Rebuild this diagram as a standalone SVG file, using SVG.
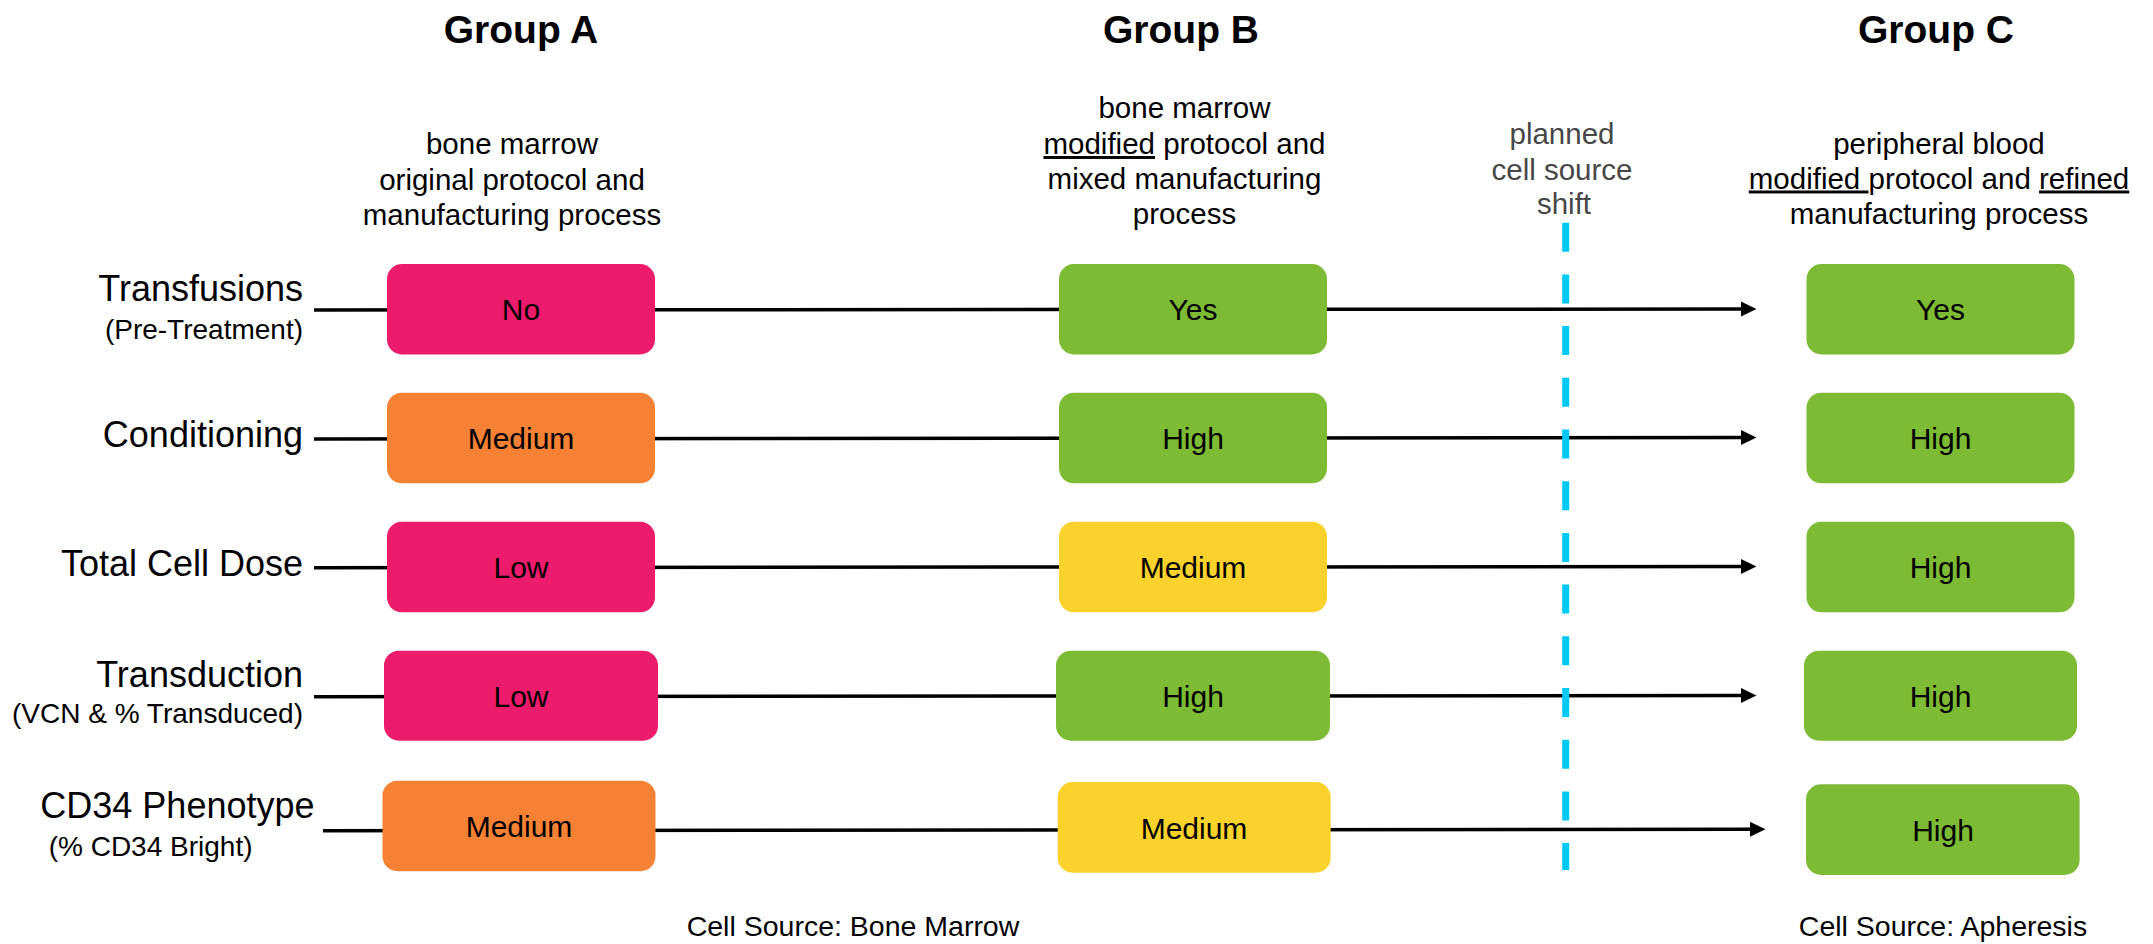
<svg xmlns="http://www.w3.org/2000/svg" width="2153" height="944" viewBox="0 0 2153 944">
<style>
text{font-family:"Liberation Sans",Arial,sans-serif;fill:#000}
.title{font-size:39px;font-weight:bold;text-anchor:middle}
.sub{font-size:29.5px;text-anchor:middle}
.note{font-size:29.5px;text-anchor:middle;fill:#474747}
.lbl{font-size:36px;text-anchor:end}
.lbl2{font-size:28px;text-anchor:end}
.val{font-size:30px;text-anchor:middle}
.src{font-size:28.5px;text-anchor:middle}
.conn{stroke:#000;stroke-width:3.5;fill:none}
.arrow{stroke:#000;stroke-width:3.5;fill:none;marker-end:url(#ah)}
.pink{fill:#EC1B6B}
.orange{fill:#F48134}
.green{fill:#7CBB33}
.yellow{fill:#FBD22B}
.shift{stroke:#00C8F8;stroke-width:7;stroke-dasharray:29 22.7;fill:none}
</style>
<defs>
<marker id="ah" markerUnits="userSpaceOnUse" markerWidth="16" markerHeight="16" viewBox="0 0 16 16" refX="3" refY="7.5" orient="auto">
<path d="M0,0 L15.5,7.5 L0,15 Z" fill="#000"/>
</marker>
</defs>
<rect width="2153" height="944" fill="#fff"/>

<g id="headers">
<text class="title" x="521" y="43">Group A</text>
<text class="title" x="1181" y="43">Group B</text>
<text class="title" x="1936" y="43">Group C</text>
<text class="sub" x="512" y="154">bone marrow</text>
<text class="sub" x="512" y="190">original protocol and</text>
<text class="sub" x="512" y="225">manufacturing process</text>
<text class="sub" x="1184.5" y="118">bone marrow</text>
<text class="sub" x="1184.5" y="154"><tspan text-decoration="underline">modified</tspan> protocol and</text>
<text class="sub" x="1184.5" y="188.5">mixed manufacturing</text>
<text class="sub" x="1184.5" y="224">process</text>
<text class="note" x="1562" y="144">planned</text>
<text class="note" x="1562" y="180">cell source</text>
<text class="note" x="1564" y="214">shift</text>
<text class="sub" x="1939" y="154">peripheral blood</text>
<text class="sub" x="1939" y="188.5"><tspan text-decoration="underline">modified </tspan>protocol and <tspan text-decoration="underline">refined</tspan></text>
<text class="sub" x="1939" y="224">manufacturing process</text>
</g>

<g id="row-labels">
<text class="lbl" x="303" y="300.5">Transfusions</text>
<text class="lbl2" x="303" y="338.5">(Pre-Treatment)</text>
<text class="lbl" x="303" y="446.7">Conditioning</text>
<text class="lbl" x="303" y="576">Total Cell Dose</text>
<text class="lbl" x="303" y="686.7">Transduction</text>
<text class="lbl2" x="303" y="723">(VCN &amp; % Transduced)</text>
<text class="lbl" x="314.5" y="818">CD34 Phenotype</text>
<text class="lbl2" x="252.5" y="856">(% CD34 Bright)</text>
</g>

<g id="connectors">
<line class="arrow" x1="314" y1="310" x2="1744" y2="309"/>
<line class="arrow" x1="314" y1="439" x2="1744" y2="437.5"/>
<line class="arrow" x1="314" y1="567.7" x2="1744" y2="566.5"/>
<line class="arrow" x1="314" y1="696.7" x2="1744" y2="695.5"/>
<line class="arrow" x1="323" y1="830.7" x2="1753" y2="829.3"/>
</g>

<g id="shift-line">
<line class="shift" x1="1565.7" y1="222.7" x2="1565.7" y2="870"/>
</g>

<g id="A1"><rect class="pink" x="387" y="264" width="268" height="90.5" rx="15"/><text class="val" x="521" y="320">No</text></g>
<g id="B1"><rect class="green" x="1059" y="264" width="268" height="90.5" rx="15"/><text class="val" x="1193" y="320">Yes</text></g>
<g id="C1"><rect class="green" x="1806.5" y="264" width="268" height="90.5" rx="15"/><text class="val" x="1940.5" y="320">Yes</text></g>

<g id="A2"><rect class="orange" x="387" y="392.7" width="268" height="90.6" rx="15"/><text class="val" x="521" y="449">Medium</text></g>
<g id="B2"><rect class="green" x="1059" y="392.7" width="268" height="90.6" rx="15"/><text class="val" x="1193" y="449">High</text></g>
<g id="C2"><rect class="green" x="1806.5" y="392.7" width="268" height="90.6" rx="15"/><text class="val" x="1940.5" y="449">High</text></g>

<g id="A3"><rect class="pink" x="387" y="521.7" width="268" height="90.6" rx="15"/><text class="val" x="521" y="578">Low</text></g>
<g id="B3"><rect class="yellow" x="1059" y="521.7" width="268" height="90.6" rx="15"/><text class="val" x="1193" y="578">Medium</text></g>
<g id="C3"><rect class="green" x="1806.5" y="521.7" width="268" height="90.6" rx="15"/><text class="val" x="1940.5" y="578">High</text></g>

<g id="A4"><rect class="pink" x="384" y="650.7" width="274" height="90" rx="15"/><text class="val" x="521" y="707">Low</text></g>
<g id="B4"><rect class="green" x="1056" y="650.7" width="274" height="90" rx="15"/><text class="val" x="1193" y="707">High</text></g>
<g id="C4"><rect class="green" x="1804" y="650.7" width="273" height="90" rx="15"/><text class="val" x="1940.5" y="707">High</text></g>

<g id="A5"><rect class="orange" x="382.5" y="780.7" width="273" height="90.5" rx="15"/><text class="val" x="519" y="837">Medium</text></g>
<g id="B5"><rect class="yellow" x="1057.7" y="782" width="273" height="90.7" rx="15"/><text class="val" x="1194" y="838.5">Medium</text></g>
<g id="C5"><rect class="green" x="1806" y="784.3" width="273.6" height="90.7" rx="15"/><text class="val" x="1943" y="841">High</text></g>

<g id="footer">
<text class="src" x="853" y="936">Cell Source: Bone Marrow</text>
<text class="src" x="1943" y="936">Cell Source: Apheresis</text>
</g>
</svg>
